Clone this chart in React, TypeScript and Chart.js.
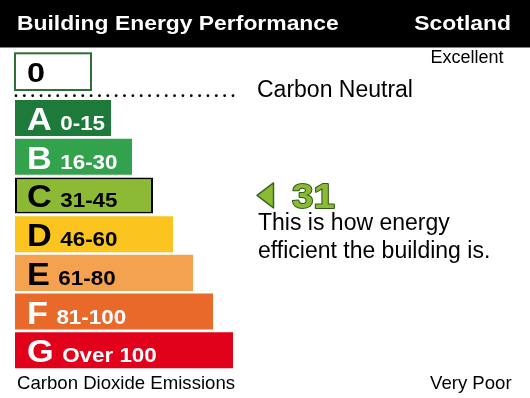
import React, { useEffect, useRef } from "react";
import { Chart, registerables } from "chart.js";

Chart.register(...registerables);

// ---- data ----
const bandLetters = ["A", "B", "C", "D", "E", "F", "G"];
const bandRanges = ["0-15", "16-30", "31-45", "46-60", "61-80", "81-100", "Over 100"];
const bandMin = [0, 16, 31, 46, 61, 81, 101];
const barLengths = [4.8, 5.85, 6.9, 7.9, 8.9, 9.9, 10.9];
const bandColors = ["#1d7a3b", "#33a24d", "#8dba34", "#fbc41e", "#f4a24f", "#e9692b", "#e2011b"];
const bandTextColors = ["#ffffff", "#ffffff", "#000000", "#000000", "#000000", "#ffffff", "#ffffff"];
const rating = 31;
const bestValue = "0";
const titleText = "Building Energy Performance";
const regionText = "Scotland";
const topLabel = "Excellent";
const bottomLabel = "Very Poor";
const neutralLabel = "Carbon Neutral";
const axisLabel = "Carbon Dioxide Emissions";
const descLines = ["This is how energy", "efficient the building is."];

const FONT = '"Liberation Sans", Arial, Helvetica, sans-serif';

let ratingIndex = 0;
bandMin.forEach((m, i) => {
  if (rating >= m) ratingIndex = i;
});

function txt(
  ctx: CanvasRenderingContext2D,
  s: string,
  x: number,
  y: number,
  size: number,
  bold: boolean,
  color: string,
  sx = 1,
  align: "left" | "right" = "left"
) {
  ctx.save();
  ctx.font = `${bold ? "bold " : ""}${size}px ${FONT}`;
  ctx.fillStyle = color;
  ctx.textBaseline = "alphabetic";
  ctx.textAlign = "left";
  const w = ctx.measureText(s).width * sx;
  const x0 = align === "right" ? x - w : x;
  ctx.translate(x0, y);
  ctx.scale(sx, 1);
  ctx.fillText(s, 0, 0);
  ctx.restore();
  return w;
}

const epcPlugin = {
  id: "epc",
  beforeDraw(chart: any) {
    const ctx = chart.ctx as CanvasRenderingContext2D;
    ctx.save();
    ctx.fillStyle = "#ffffff";
    ctx.fillRect(0, 0, chart.width, chart.height);
    ctx.fillStyle = "#000000";
    ctx.fillRect(0, 0, chart.width, 47.5);
    ctx.restore();
  },
  afterDatasetsDraw(chart: any) {
    const ctx = chart.ctx as CanvasRenderingContext2D;
    const meta = chart.getDatasetMeta(0);
    meta.data.forEach((el: any, i: number) => {
      const lx = el.base + 12;
      const by = el.y + 12;
      const w = txt(ctx, bandLetters[i], lx, by, 32, true, bandTextColors[i], 1.07);
      txt(ctx, bandRanges[i], lx + w + 8.5, by, 20, true, bandTextColors[i], 1.12);
    });
  },
  afterDraw(chart: any) {
    const ctx = chart.ctx as CanvasRenderingContext2D;
    const meta = chart.getDatasetMeta(0);
    const first = meta.data[0];
    const last = meta.data[meta.data.length - 1];
    const rowEl = meta.data[ratingIndex];

    // header
    txt(ctx, titleText, 17, 29.5, 21, true, "#ffffff", 1.09);
    txt(ctx, regionText, 511, 29.5, 21, true, "#ffffff", 1.09, "right");

    // best value box
    ctx.save();
    ctx.strokeStyle = "#2b7139";
    ctx.lineWidth = 2;
    ctx.strokeRect(first.base, 53.3, 76, 36.7);
    ctx.restore();
    txt(ctx, bestValue, 27, 82.3, 27, true, "#000000", 1.2);

    // dotted line
    ctx.save();
    ctx.fillStyle = "#000000";
    const x0 = first.base + 1;
    const x1 = last.x;
    const n = 26;
    for (let k = 0; k <= n; k++) {
      const x = x0 + ((x1 - x0) * k) / n;
      ctx.beginPath();
      ctx.arc(x, 95.7, 1.4, 0, Math.PI * 2);
      ctx.fill();
    }
    ctx.restore();

    txt(ctx, neutralLabel, 257, 96.7, 23, false, "#000000");
    txt(ctx, topLabel, 430.5, 62.7, 18, false, "#000000");
    txt(ctx, axisLabel, 17, 389.3, 18.6, false, "#000000");
    txt(ctx, bottomLabel, 430, 389.3, 18.6, false, "#000000");

    // rating arrow + value
    const yc = rowEl.y;
    ctx.save();
    ctx.beginPath();
    ctx.moveTo(257, yc);
    ctx.lineTo(273.5, yc - 12.5);
    ctx.lineTo(273.5, yc + 12.5);
    ctx.closePath();
    ctx.fillStyle = bandColors[ratingIndex];
    ctx.fill();
    ctx.strokeStyle = "#356a1c";
    ctx.lineWidth = 1.5;
    ctx.lineJoin = "round";
    ctx.stroke();
    ctx.restore();

    ctx.save();
    ctx.font = `bold 35px ${FONT}`;
    ctx.translate(292, yc + 12.5);
    ctx.scale(1.1, 1);
    ctx.lineWidth = 2;
    ctx.strokeStyle = "#2f5a17";
    ctx.lineJoin = "round";
    ctx.strokeText(String(rating), 0, 0);
    ctx.fillStyle = bandColors[ratingIndex];
    ctx.fillText(String(rating), 0, 0);
    ctx.restore();

    txt(ctx, descLines[0], 258, yc + 35, 23, false, "#000000");
    txt(ctx, descLines[1], 258, yc + 62.3, 23, false, "#000000");
  },
};

export default function App() {
  const ref = useRef<HTMLCanvasElement | null>(null);
  useEffect(() => {
    if (!ref.current) return;
    const chart = new Chart(ref.current, {
      type: "bar",
      data: {
        labels: bandLetters,
        datasets: [
          {
            data: barLengths,
            backgroundColor: bandColors,
            borderColor: "#000000",
            borderWidth: bandLetters.map((_, i) => (i === ratingIndex ? 2 : 0)),
            borderSkipped: false,
            barPercentage: 0.93,
            categoryPercentage: 1,
          },
        ],
      },
      options: {
        indexAxis: "y",
        responsive: false,
        animation: false,
        devicePixelRatio: 1,
        events: [],
        layout: { padding: { left: 15, right: 15, top: 98.6, bottom: 28.3 } },
        scales: {
          x: { display: false, min: 0, max: 25 },
          y: { display: false },
        },
        plugins: {
          legend: { display: false },
          tooltip: { enabled: false },
        },
      },
      plugins: [epcPlugin],
    } as any);
    return () => chart.destroy();
  }, []);
  return (
    <div style={{ position: "fixed", left: 0, top: 0, width: 530, height: 398, background: "#fff" }}>
      <canvas ref={ref} width={530} height={398} style={{ display: "block", width: 530, height: 398 }} />
    </div>
  );
}
